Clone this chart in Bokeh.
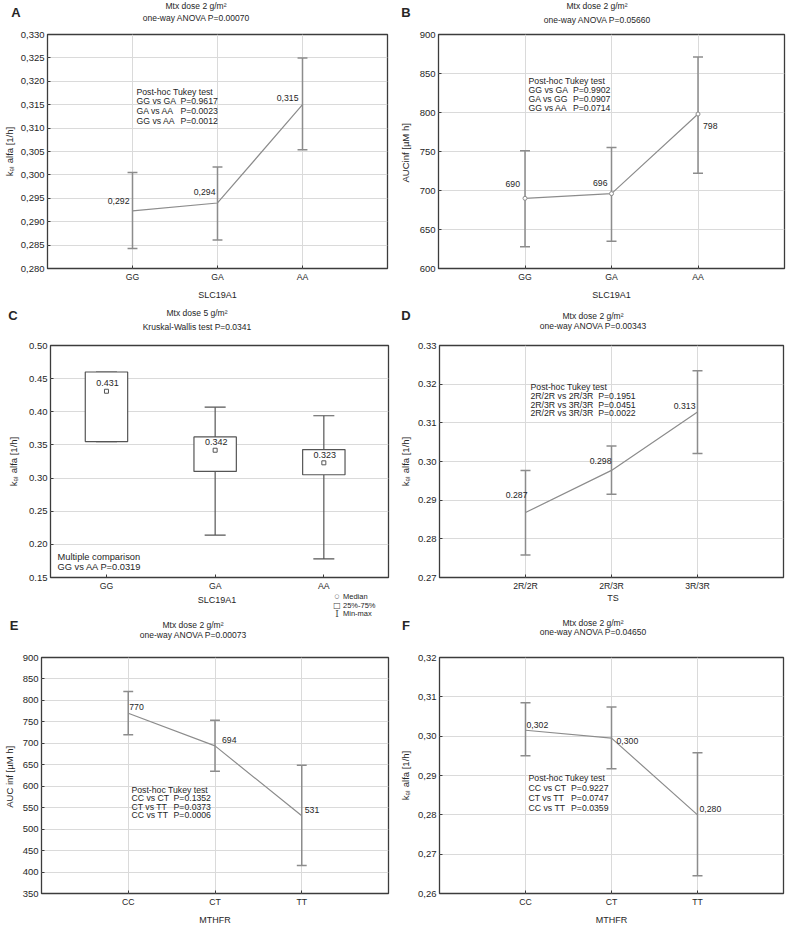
import math
from bokeh.plotting import figure
from bokeh.models import Label, Range1d, FixedTicker, CustomJSTickFormatter, Div
from bokeh.layouts import column, row
from bokeh.embed import file_html
from bokeh.resources import INLINE
from bokeh.core.properties import value

FONT = "Liberation Sans"
TXT = "#262626"
GRID = "#dadada"
FRAME = "#3c3c3c"
LINE = "#8c8c8c"

# ---------------- data ----------------
slc_genotypes = ["GG", "GA", "AA"]
ts_genotypes = ["2R/2R", "2R/3R", "3R/3R"]
mthfr_genotypes = ["CC", "CT", "TT"]

# A: kel alfa, SLC19A1
a_mean = [0.2923, 0.2940, 0.3150]
a_low = [0.2843, 0.2861, 0.3054]
a_high = [0.3005, 0.3017, 0.3250]
a_value_labels = ["0,292", "0,294", "0,315"]
a_yticks = [0.280, 0.285, 0.290, 0.295, 0.300, 0.305, 0.310, 0.315, 0.320, 0.325, 0.330]
a_ytick_labels = ["0,280", "0,285", "0,290", "0,295", "0,300", "0,305", "0,310", "0,315", "0,320", "0,325", "0,330"]
a_title = ["Mtx dose 2 g/m²", "one-way ANOVA P=0.00070"]
a_tukey = [("GG vs GA", "P=0.9617"), ("GA vs AA", "P=0.0023"), ("GG vs AA", "P=0.0012")]

# B: AUCinf, SLC19A1
b_mean = [690, 696, 798]
b_low = [628, 635, 722]
b_high = [751, 755, 871]
b_value_labels = ["690", "696", "798"]
b_yticks = [600, 650, 700, 750, 800, 850, 900]
b_ytick_labels = ["600", "650", "700", "750", "800", "850", "900"]
b_title = ["Mtx dose 2 g/m²", "one-way ANOVA P=0.05660"]
b_tukey = [("GG vs GA", "P=0.9902"), ("GA vs GG", "P=0.0907"), ("GG vs AA", "P=0.0714")]

# C: kel alfa box plot, SLC19A1, 5 g/m2
c_q1 = [0.355, 0.310, 0.305]
c_q3 = [0.460, 0.362, 0.343]
c_min = [0.355, 0.214, 0.178]
c_max = [0.460, 0.407, 0.394]
c_median = [0.431, 0.342, 0.323]
c_value_labels = ["0.431", "0.342", "0.323"]
c_yticks = [0.15, 0.20, 0.25, 0.30, 0.35, 0.40, 0.45, 0.50]
c_ytick_labels = ["0.15", "0.20", "0.25", "0.30", "0.35", "0.40", "0.45", "0.50"]
c_title = ["Mtx dose 5 g/m²", "Kruskal-Wallis test P=0.0341"]
c_note = ["Multiple comparison", "GG vs AA P=0.0319"]
c_legend = ["Median", "25%-75%", "Min-max"]

# D: kel alfa, TS
d_mean = [0.2868, 0.2977, 0.3128]
d_low = [0.2758, 0.2915, 0.3021]
d_high = [0.2977, 0.3040, 0.3235]
d_value_labels = ["0.287", "0.298", "0.313"]
d_yticks = [0.27, 0.28, 0.29, 0.30, 0.31, 0.32, 0.33]
d_ytick_labels = ["0.27", "0.28", "0.29", "0.30", "0.31", "0.32", "0.33"]
d_title = ["Mtx dose 2 g/m²", "one-way ANOVA P=0.00343"]
d_tukey = [("2R/2R vs 2R/3R", "P=0.1951"), ("2R/3R vs 3R/3R", "P=0.0451"), ("2R/2R vs 3R/3R", "P=0.0022")]

# E: AUCinf, MTHFR
e_mean = [770, 694, 531]
e_low = [720, 635, 415]
e_high = [821, 754, 649]
e_value_labels = ["770", "694", "531"]
e_yticks = [350, 400, 450, 500, 550, 600, 650, 700, 750, 800, 850, 900]
e_ytick_labels = ["350", "400", "450", "500", "550", "600", "650", "700", "750", "800", "850", "900"]
e_title = ["Mtx dose 2 g/m²", "one-way ANOVA P=0.00073"]
e_tukey = [("CC vs CT", "P=0.1352"), ("CT vs TT", "P=0.0373"), ("CC vs TT", "P=0.0006")]

# F: kel alfa, MTHFR
f_mean = [0.3015, 0.2995, 0.2800]
f_low = [0.2950, 0.2917, 0.2645]
f_high = [0.3085, 0.3074, 0.2958]
f_value_labels = ["0,302", "0,300", "0,280"]
f_yticks = [0.26, 0.27, 0.28, 0.29, 0.30, 0.31, 0.32]
f_ytick_labels = ["0,26", "0,27", "0,28", "0,29", "0,30", "0,31", "0,32"]
f_title = ["Mtx dose 2 g/m²", "one-way ANOVA P=0.04650"]
f_tukey = [("CC vs CT", "P=0.9227"), ("CT vs TT", "P=0.0747"), ("CC vs TT", "P=0.0359")]

KEL_LABEL = "kₑₗ alfa [1/h]"
AUC_B_LABEL = "AUCinf  [µM h]"
AUC_E_LABEL = "AUC inf  [µM h]"

# ---------------- helpers ----------------
CW = {' ': .278, 'G': .778, 'A': .667, 'C': .722, 'T': .611, 'R': .722, 'v': .5, 's': .5,
      '/': .278, 'P': .667, '=': .584, '.': .278}


def text_w(s, size):
    return sum(CW.get(ch, .556) for ch in s) * size


class Geo:
    """Frame position (page pixels) of one panel, used only to place free texts."""

    def __init__(self, origin, size, frame, xr, yr):
        self.ox, self.oy = origin
        self.w, self.h = size
        self.L, self.T, self.R, self.B = frame
        self.xr, self.yr = xr, yr

    def data(self, px, py):
        x = self.xr[0] + (px - self.L) / (self.R - self.L) * (self.xr[1] - self.xr[0])
        y = self.yr[1] - (py - self.T) / (self.B - self.T) * (self.yr[1] - self.yr[0])
        return x, y

    def xunits(self, px):
        return px / (self.R - self.L) * (self.xr[1] - self.xr[0])


def lookup_formatter(tvals, tlabels):
    return CustomJSTickFormatter(args=dict(tvals=tvals, tlabels=tlabels), code="""
        let best = 0, bd = Infinity;
        for (let i = 0; i < tvals.length; i++) {
            const d = Math.abs(tvals[i] - tick);
            if (d < bd) { bd = d; best = i; }
        }
        return tlabels[best];
    """)


def label(p, g, px, py, text, size="8.7px", align="left"):
    x, y = g.data(px, py)
    p.add_layout(Label(x=x, y=y, text=text, text_font=FONT, text_font_size=size,
                       text_align=align, text_baseline="middle", text_color=TXT))


def make_fig(g, cats, yticks, ytick_labels, ylabel, ylabel_standoff, xlabel=None, xgrid=True):
    p = figure(width=g.w, height=g.h, output_backend="svg", toolbar_location=None,
               x_range=Range1d(*g.xr), y_range=Range1d(*g.yr),
               min_border_left=g.L - g.ox, min_border_right=g.ox + g.w - g.R,
               min_border_top=g.T - g.oy, min_border_bottom=g.oy + g.h - g.B)
    p.background_fill_color = "white"
    p.border_fill_color = "white"
    p.outline_line_color = FRAME
    p.outline_line_width = 1.3
    xs = list(range(1, len(cats) + 1))
    p.xaxis.ticker = FixedTicker(ticks=xs)
    p.xaxis.formatter = lookup_formatter(xs, cats)
    p.yaxis.ticker = FixedTicker(ticks=yticks)
    p.yaxis.formatter = lookup_formatter(yticks, ytick_labels)
    for ax in (p.xaxis[0], p.yaxis[0]):
        ax.axis_line_color = None
        ax.major_tick_in = 3
        ax.major_tick_out = 0
        ax.major_tick_line_color = FRAME
        ax.minor_tick_line_color = None
        ax.major_label_text_font = FONT
        ax.major_label_text_color = TXT
        ax.major_label_standoff = 3
        ax.axis_label_text_font = FONT
        ax.axis_label_text_font_style = "normal"
        ax.axis_label_text_color = TXT
    p.xaxis.major_label_text_font_size = "8.7px"
    p.yaxis.major_label_text_font_size = "9.5px"
    p.yaxis.axis_label = ylabel
    p.yaxis.axis_label_text_font_size = "9.5px"
    p.yaxis.axis_label_standoff = int(ylabel_standoff)
    if xlabel is not None:
        p.xaxis.axis_label = xlabel
        p.xaxis.axis_label_text_font_size = "9px"
        p.xaxis.axis_label_standoff = 5
    p.xgrid.grid_line_color = GRID if xgrid else None
    p.ygrid.grid_line_color = GRID
    return p, xs


def add_tukey(p, g, x, ys, rows, size=8.7):
    label(p, g, x, ys[0], "Post-hoc Tukey test", size=f"{size}px")
    pcol = x + max(text_w(c, size) for c, _ in rows) + 2 * 0.278 * size
    for (comp, pv), y in zip(rows, ys[1:]):
        label(p, g, x, y, comp, size=f"{size}px")
        label(p, g, pcol, y, pv, size=f"{size}px")


def means_panel(g, cats, mean, low, high, vlabels, yticks, ytl, offsets, ylabel, ystand,
                xlabel=None, markers=False):
    p, xs = make_fig(g, cats, yticks, ytl, ylabel, ystand, xlabel)
    cap = g.xunits(5)
    p.segment(x0=xs, y0=low, x1=xs, y1=high, line_color=LINE, line_width=1.5)
    p.segment(x0=[x - cap for x in xs], y0=low, x1=[x + cap for x in xs], y1=low,
              line_color=LINE, line_width=1.5)
    p.segment(x0=[x - cap for x in xs], y0=high, x1=[x + cap for x in xs], y1=high,
              line_color=LINE, line_width=1.5)
    p.line(xs, mean, line_color=LINE, line_width=1.2)
    if markers:
        p.scatter(xs, mean, marker="circle", size=4, fill_color="white", line_color=LINE)
    for i, (dx, dy, al) in enumerate(offsets):
        p.text(x=[xs[i]], y=[mean[i]], text=[vlabels[i]], x_offset=dx, y_offset=dy,
               text_align=al, text_baseline="middle", text_font=value(FONT),
               text_font_size="8.7px", text_color=TXT)
    return p


def span(x, y, text, size=8.5, align="center", bold=False, font=FONT, color=TXT):
    tr = "translate(-50%,-50%)" if align == "center" else "translate(0,-50%)"
    weight = "bold" if bold else "normal"
    return (f'<span style="position:absolute;left:{x}px;top:{y}px;transform:{tr};'
            f'font-family:\'{font}\';font-size:{size}px;font-weight:{weight};color:{color};'
            f'white-space:nowrap;line-height:1">{text}</span>')


def strip(items, top, height):
    html = "".join(span(x, y - top, *rest) for (x, y, *rest) in items)
    return Div(text=f'<div style="position:relative;width:790px;height:{height}px;'
                    f'overflow:visible">{html}</div>',
               width=790, height=height, margin=0)


# ---------------- panels ----------------
# row 1 : strip 0..26, figures 26..302
gA = Geo((0, 26), (395, 276), (43, 32, 387, 270), (0, 4), (0.280, 0.330))
pA = means_panel(gA, slc_genotypes, a_mean, a_low, a_high, a_value_labels, a_yticks, a_ytick_labels,
                 [(-3, -9.5, "right"), (-2, -11, "right"), (-4, -7, "right")],
                 KEL_LABEL, 3, xlabel="SLC19A1")
add_tukey(pA, gA, 133, [90, 100, 110, 119.5], a_tukey)

gB = Geo((395, 26), (395, 276), (438, 34, 784, 269), (0, 4), (600, 900))
pB = means_panel(gB, slc_genotypes, b_mean, b_low, b_high, b_value_labels, b_yticks, b_ytick_labels,
                 [(-5, -14.5, "right"), (-4, -11, "right"), (5, 12, "left")],
                 AUC_B_LABEL, 6, xlabel="SLC19A1", markers=True)
add_tukey(pB, gB, 528, [81, 90, 99, 108], b_tukey)

strip1 = strip([
    (16, 12, "A", 13, "center", True),
    (196, 6, a_title[0]), (196, 18, a_title[1]),
    (406, 12, "B", 13, "center", True),
    (597, 6, b_title[0]), (597, 20, b_title[1]),
], 0, 26)

# row 2 : strip 302..336, figures 336..593
gC = Geo((0, 336), (395, 257), (50, 342, 388, 579), (0.485, 3.595), (0.15, 0.50))
pC, xsC = make_fig(gC, slc_genotypes, c_yticks, c_ytick_labels, KEL_LABEL, 7, xgrid=False)
BOX = "#555555"
bw = 0.195
capC = gC.xunits(10.5)
pC.segment(x0=xsC, y0=c_q3, x1=xsC, y1=c_max, line_color=BOX, line_width=1.2)
pC.segment(x0=xsC, y0=c_min, x1=xsC, y1=c_q1, line_color=BOX, line_width=1.2)
pC.segment(x0=[x - capC for x in xsC], y0=c_max, x1=[x + capC for x in xsC], y1=c_max,
           line_color=BOX, line_width=1.2)
pC.segment(x0=[x - capC for x in xsC], y0=c_min, x1=[x + capC for x in xsC], y1=c_min,
           line_color=BOX, line_width=1.2)
pC.quad(left=[x - bw for x in xsC], right=[x + bw for x in xsC], bottom=c_q1, top=c_q3,
        fill_color="white", line_color=BOX, line_width=1.2)
pC.scatter(xsC, c_median, marker="square", size=4, fill_color="white", line_color=BOX)
pC.text(x=xsC, y=c_median, text=c_value_labels, x_offset=1, y_offset=-8, text_align="center",
        text_baseline="middle", text_font=value(FONT), text_font_size="9px", text_color=TXT)
label(pC, gC, 57, 558, c_note[0], size="9.3px")
label(pC, gC, 57, 568, c_note[1], size="9.3px")

gD = Geo((395, 336), (395, 257), (439, 345, 783, 578), (0, 4), (0.27, 0.33))
pD = means_panel(gD, ts_genotypes, d_mean, d_low, d_high, d_value_labels, d_yticks, d_ytick_labels,
                 [(2, -18, "right"), (0, -9, "right"), (-2, -6, "right")],
                 KEL_LABEL, 4)
add_tukey(pD, gD, 530, [387, 396, 404.5, 413], d_tukey)

strip2 = strip([
    (13, 315, "C", 13, "center", True),
    (197, 313, c_title[0]), (197, 327, c_title[1]),
    (406, 315, "D", 13, "center", True),
    (593, 316, d_title[0]), (593, 326, d_title[1]),
], 302, 34)

# strip 3 : 593..647  (x labels of row 2, C legend, titles of row 3)
strip3 = strip([
    (217, 600, "SLC19A1", 9),
    (613, 598, "TS", 9),
    (337, 597, "○", 5.5, "center", False, "DejaVu Sans", "#444444"),
    (337, 605.5, "□", 8, "center", False, "DejaVu Sans", "#444444"),
    (337, 614, "I", 9, "center", False, "DejaVu Serif", "#444444"),
    (343, 597, c_legend[0], 7.5, "left"),
    (343, 605.5, c_legend[1], 7.5, "left"),
    (343, 614, c_legend[2], 7.5, "left"),
    (14, 625, "E", 13, "center", True),
    (193, 625, e_title[0]), (193, 635, e_title[1]),
    (406, 625, "F", 13, "center", True),
    (593, 623, f_title[0]), (593, 632, f_title[1]),
], 593, 54)

# row 3 : figures 647..928
gE = Geo((0, 647), (395, 281), (37, 657, 388, 893), (0, 4), (350, 900))
pE = means_panel(gE, mthfr_genotypes, e_mean, e_low, e_high, e_value_labels, e_yticks, e_ytick_labels,
                 [(1, -6, "left"), (7, -6, "left"), (3, -6, "left")],
                 AUC_E_LABEL, 5, xlabel="MTHFR")
add_tukey(pE, gE, 128, [789, 797.5, 806, 814.5], e_tukey)

gF = Geo((395, 647), (395, 281), (439, 653, 783, 894), (0, 4), (0.26, 0.32))
pF = means_panel(gF, mthfr_genotypes, f_mean, f_low, f_high, f_value_labels, f_yticks, f_ytick_labels,
                 [(1, -5, "left"), (5, 3, "left"), (2, -6, "left")],
                 KEL_LABEL, 4, xlabel="MTHFR")
add_tukey(pF, gF, 528, [776, 786, 796.5, 807], f_tukey)

layout = column(strip1, row(pA, pB), strip2, row(pC, pD), strip3, row(pE, pF))
open("out.html", "w").write(file_html(layout, INLINE))
